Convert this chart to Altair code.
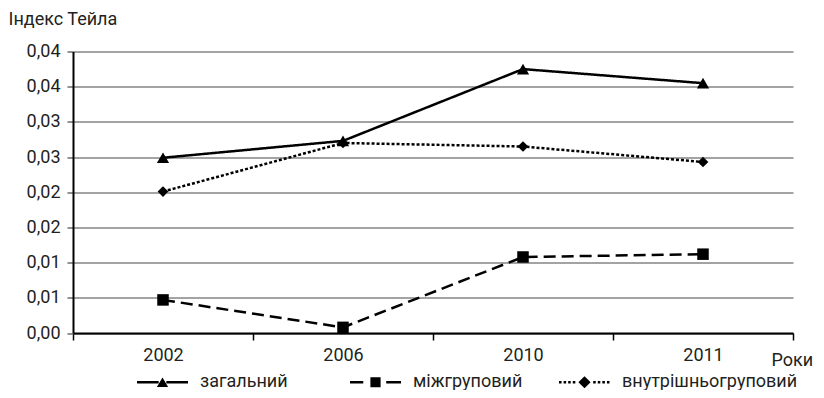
import altair as alt
import pandas as pd

# ---- data -------------------------------------------------------------
years = ["2002", "2006", "2010", "2011"]
series = ["загальний", "міжгруповий", "внутрішньогруповий"]
zahalnyi = [0.0249, 0.0273, 0.0375, 0.0355]
mizhgrupovyi = [0.0047, 0.0008, 0.0108, 0.0112]
vnutrishnyo = [0.0201, 0.0270, 0.0265, 0.0243]
y_ticks = [0, 0.005, 0.01, 0.015, 0.02, 0.025, 0.03, 0.035, 0.04]
y_tick_labels = ["0,00", "0,01", "0,01", "0,02", "0,02", "0,03", "0,03", "0,04", "0,04"]
y_title = "Індекс Тейла"
x_title = "Роки"

rows = []
for s, vals in zip(series, [zahalnyi, mizhgrupovyi, vnutrishnyo]):
    for i, (yr, v) in enumerate(zip(years, vals)):
        rows.append({"year": yr, "series": s, "value": v, "order": i})
df = pd.DataFrame(rows)

FONT = "Roboto"
FS = 18
TXT = "#231f20"

# legend symbols drawn as filled shapes in the unit box (-1..1)
T = 0.049  # half line thickness


def bar(a, b):
    return f"M{a:.3f},{-T:.3f}H{b:.3f}V{T:.3f}H{a:.3f}Z"


def dotted(a, b, step=0.18, length=0.1):
    out = ""
    x = a
    while x + length <= b + 1e-9:
        out += f"M{x:.3f},-0.05H{x + length:.3f}V0.05H{x:.3f}Z"
        x += step
    return out


sym_solid = bar(-1, -0.15) + bar(0.15, 1) + "M0,-0.19L0.22,0.19L-0.22,0.19Z"
sym_dash = bar(-1, -0.48) + bar(0.42, 1) + "M-0.2,-0.2H0.2V0.2H-0.2Z"
sym_dot = dotted(-1, -0.3) + dotted(0.34, 1) + "M0,-0.24L0.24,0L0,0.24L-0.24,0Z"

y_label_expr = "[" + ",".join(f"'{t}'" for t in y_tick_labels) + "][round(datum.value*200)]"

x_enc = alt.X(
    "year:O",
    sort=years,
    scale=alt.Scale(type="band", paddingInner=0, paddingOuter=0),
    axis=alt.Axis(
        title=x_title,
        labelAngle=0,
        labelFont=FONT,
        labelFontSize=FS,
        labelColor=TXT,
        labelPadding=6.5,
        tickBand="extent",
        tickSize=7,
        tickColor="black",
        tickWidth=1.5,
        domainColor="black",
        domainWidth=2,
        titleFont=FONT,
        titleFontSize=FS,
        titleFontWeight="normal",
        titleColor=TXT,
        titleAnchor="start",
        titleAlign="left",
        titleBaseline="alphabetic",
        titleX=698,
        titleY=32,
        grid=False,
    ),
)
y_enc = alt.Y(
    "value:Q",
    scale=alt.Scale(domain=[0, 0.04], nice=False, zero=True),
    axis=alt.Axis(
        title=y_title,
        values=y_ticks,
        labelExpr=y_label_expr,
        labelFont=FONT,
        labelFontSize=FS,
        labelColor=TXT,
        labelPadding=7,
        tickSize=6,
        tickColor="#6d6d6d",
        tickWidth=1.5,
        domainColor="black",
        domainWidth=2,
        grid=True,
        gridColor="#858585",
        gridWidth=1.5,
        titleFont=FONT,
        titleFontSize=FS,
        titleFontWeight="normal",
        titleColor=TXT,
        titleAngle=0,
        titleAlign="left",
        titleBaseline="alphabetic",
        titleX=-65,
        titleY=-27.5,
    ),
)

base = alt.Chart(df)

lines = base.mark_line(color="black", strokeCap="butt").encode(
    x=x_enc,
    y=y_enc,
    detail="series:N",
    order="order:Q",
    strokeDash=alt.StrokeDash(
        "series:N",
        scale=alt.Scale(domain=series, range=[[1, 0], [12, 6], [3, 2]]),
        legend=None,
    ),
    strokeWidth=alt.StrokeWidth(
        "series:N", scale=alt.Scale(domain=series, range=[2.5, 2.5, 3]), legend=None
    ),
)

points = base.mark_point(filled=True, color="black", opacity=1).encode(
    x=x_enc,
    y=y_enc,
    shape=alt.Shape(
        "series:N",
        scale=alt.Scale(domain=series, range=["triangle-up", "square", "diamond"]),
        legend=None,
    ),
    size=alt.Size(
        "series:N", scale=alt.Scale(domain=series, range=[150, 115, 170]), legend=None
    ),
)

pad_first = "\u2800" * 2  # blank (non-trimmed) glyphs to widen the first legend entry
legend_layer = (
    base.transform_filter("false")
    .mark_point(filled=True, fill="black", opacity=1)
    .encode(
        x=x_enc,
        y=y_enc,
        shape=alt.Shape(
            "series:N",
            scale=alt.Scale(domain=series, range=[sym_solid, sym_dash, sym_dot]),
            legend=alt.Legend(
                title=None,
                orient="none",
                legendX=64,
                legendY=305,
                direction="horizontal",
                symbolSize=2601,
                symbolStrokeWidth=0,
                symbolFillColor="black",
                symbolOpacity=1,
                labelFont=FONT,
                labelFontSize=FS,
                labelColor=TXT,
                labelOffset=12,
                labelLimit=400,
                columnPadding=36,
                labelExpr=f"datum.label == '{series[0]}' ? datum.label + '{pad_first}' : datum.label",
            ),
        ),
    )
)

chart = (
    alt.layer(lines, points, legend_layer)
    .resolve_scale(shape="independent", size="independent", strokeWidth="independent")
    .properties(
        width=720,
        height=281.5,
        autosize=alt.AutoSizeParams(type="none"),
        padding={"left": 65, "top": 43.5, "right": 23, "bottom": 57},
        background="white",
    )
    .configure_view(stroke=None)
)

chart.save("out.html", embed_options={"renderer": "svg", "actions": False})
